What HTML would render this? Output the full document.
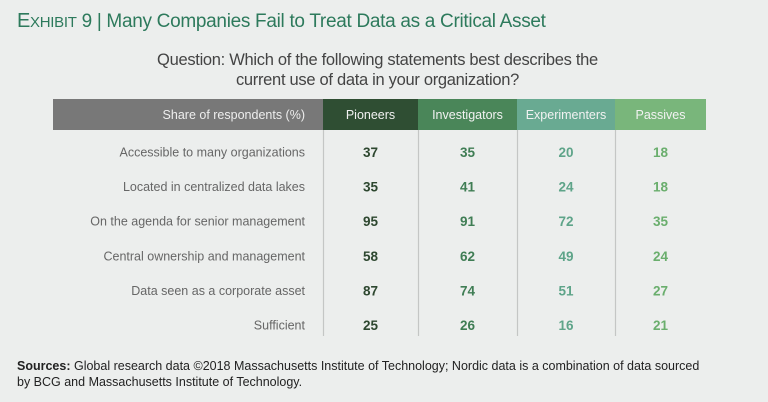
<!DOCTYPE html>
<html><head><meta charset="utf-8"><style>
body{margin:0;width:768px;height:402px;background:#eceeed;font-family:"Liberation Sans",sans-serif;position:relative;overflow:hidden}
.a{position:absolute}
</style></head><body>
<div class="a" style="left:17px;top:10px;font-size:19px;color:#2d7a5c;white-space:nowrap;letter-spacing:-0.3px"><span style="font-size:20px">E</span><span style="font-size:15px">XHIBIT</span> 9 | Many Companies Fail to Treat Data as a Critical Asset</div>
<div class="a" style="left:100px;width:555px;top:50px;text-align:center;font-size:16.5px;line-height:20px;color:#444;letter-spacing:-0.3px">Question: Which of the following statements best describes the<br>current use of data in your organization?</div>
<svg class="a" style="left:0;top:0" width="768" height="402" id="tbl"></svg>
<div class="a" style="left:17px;top:358px;width:740px;font-size:12.5px;line-height:16px;color:#222"><b>Sources:</b> Global research data ©2018 Massachusetts Institute of Technology; Nordic data is a combination of data sourced<br>by BCG and Massachusetts Institute of Technology.</div>
<script>
const groups=["Pioneers","Investigators","Experimenters","Passives"];
const rows=["Accessible to many organizations","Located in centralized data lakes","On the agenda for senior management","Central ownership and management","Data seen as a corporate asset","Sufficient"];
const pioneers=[37,35,95,58,87,25];
const investigators=[35,41,91,62,74,26];
const experimenters=[20,24,72,49,51,16];
const passives=[18,18,35,24,27,21];
const series=[pioneers,investigators,experimenters,passives];
const NS="http://www.w3.org/2000/svg",svg=document.getElementById('tbl');
const colX=[323,418,517,615,706],hdrFill=["#2f4e33","#4a8659","#69aa92","#79b67b"],valCol=["#2d472f","#3f7d54","#5ea489","#6aae6d"];
const rowY=i=>152+i*34.6;
function mk(t,a){const e=document.createElementNS(NS,t);for(const k in a)e.setAttribute(k,a[k]);svg.appendChild(e);return e;}
let r=mk('rect',{x:53,y:99,width:270,height:31,fill:'#787878'});

let t=mk('text',{x:305,y:119,'text-anchor':'end','font-size':12.5,fill:'#eee'});t.textContent="Share of respondents (%)";

groups.forEach((g,j)=>{
 let c=mk('rect',{x:colX[j],y:99,width:colX[j+1]-colX[j],height:31,fill:hdrFill[j]});
 
 let h=mk('text',{x:(colX[j]+colX[j+1])/2,y:119,'text-anchor':'middle','font-size':12.5,fill:'#f2f2f2'});h.textContent=g;
 
 let l=mk('line',{x1:colX[j]+0.5,y1:130,x2:colX[j]+0.5,y2:336,stroke:'#c4c6c5','stroke-width':1.2});
 
});
rows.forEach((rw,i)=>{
 let lt=mk('text',{x:305,y:rowY(i)+4.5,'text-anchor':'end','font-size':12.5,fill:'#666'});lt.textContent=rw;
 
 series.forEach((s,j)=>{
  let v=mk('text',{x:(colX[j]+colX[j+1])/2,y:rowY(i)+5,'text-anchor':'middle','font-size':13.5,'font-weight':'bold',fill:valCol[j]});v.textContent=s[i];
  
 });
});
</script>
</body></html>
